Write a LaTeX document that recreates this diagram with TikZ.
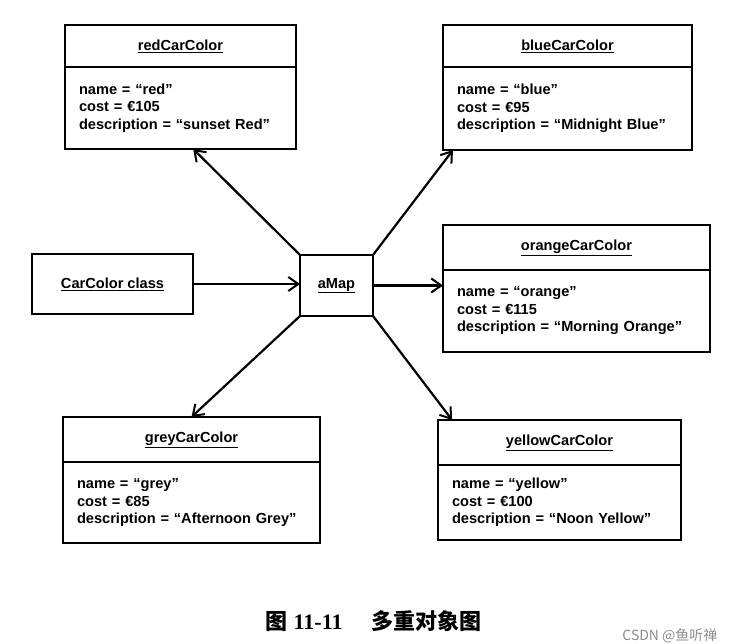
\documentclass[tikz,border=0pt]{standalone}
\usepackage{fontspec}
\setmainfont{Liberation Sans}
\newfontfamily\cjk{Noto Sans CJK SC}
\newfontfamily\capnum{Liberation Serif}
\usepackage{tikz}
\usetikzlibrary{arrows.meta, positioning, calc}

\tikzset{
    objhead/.style={draw, line width=2.2pt, outer sep=0pt, inner sep=0pt},
    objbody/.style={draw, line width=2.2pt, outer sep=0pt, inner xsep=14pt, inner ysep=0pt, align=left},
    link/.style={-{Straight Barb[length=10pt, width=14pt, line width=2pt]}, line width=2.2pt},
}

\begin{document}
\begin{tikzpicture}[x=1pt, y=-1pt, every node/.style={font=\bfseries\fontsize{14.6}{17.5}\selectfont}]
    \useasboundingbox (0,0) rectangle (736,644);

    % --- central map object ---
    \node[objhead, minimum width=73, minimum height=61] (amap) at (336.5,285.5) {\underline{aMap}};
    \node[objhead, minimum width=161, minimum height=60] (ccls) at (112.5,284) {\underline{CarColor class}};

    % --- redCarColor ---
    \node[objhead, minimum width=231, minimum height=42] (redh) at (180.5,46) {\underline{redCarColor}};
    \node[objbody, below=0pt of redh, minimum height=82, text width=203] (redb)
        {name = ``red''\\cost = €105\\description = ``sunset Red''};

    % --- blueCarColor ---
    \node[objhead, minimum width=249, minimum height=42] (blueh) at (567.5,46) {\underline{blueCarColor}};
    \node[objbody, below=0pt of blueh, minimum height=83, text width=221] (blueb)
        {name = ``blue''\\cost = €95\\description = ``Midnight Blue''};

    % --- orangeCarColor ---
    \node[objhead, minimum width=267, minimum height=45] (orangeh) at (576.5,247.5) {\underline{orangeCarColor}};
    \node[objbody, below=0pt of orangeh, minimum height=82, text width=239] (orangeb)
        {name = ``orange''\\cost = €115\\description = ``Morning Orange''};

    % --- greyCarColor ---
    \node[objhead, minimum width=257, minimum height=45] (greyh) at (191.5,439.5) {\underline{greyCarColor}};
    \node[objbody, below=0pt of greyh, minimum height=81, text width=229] (greyb)
        {name = ``grey''\\cost = €85\\description = ``Afternoon Grey''};

    % --- yellowCarColor ---
    \node[objhead, minimum width=243, minimum height=45] (yellowh) at (559.5,442.5) {\underline{yellowCarColor}};
    \node[objbody, below=0pt of yellowh, minimum height=75, text width=215] (yellowb)
        {name = ``yellow''\\cost = €100\\description = ``Noon Yellow''};

    % --- links ---
    \draw[link] (ccls.east) -- (ccls.east -| amap.west);
    \draw[link] (amap.east) -- (amap.east -| orangeb.west);
    \draw[link] (amap.north west) -- ($(redb.south west)!0.555!(redb.south east)$);
    \draw[link] (amap.north east) -- ($(blueb.south west)!0.04!(blueb.south east)$);
    \draw[link] (amap.south west) -- ($(greyh.north west)!0.50!(greyh.north east)$);
    \draw[link] (amap.south east) -- ($(yellowh.north west)!0.058!(yellowh.north east)$);

    % --- caption ---
    \node[font=\bfseries\fontsize{22}{22}\selectfont, anchor=west] (cap) at (262,621)
        {{\cjk 图} {\capnum 11-11}\hspace{1.3em}{\cjk 多重对象图}};
    \node[font=\cjk\fontsize{14}{14}\selectfont, text=black!45, anchor=east] (mark) at (721,636)
        {CSDN @鱼听禅};
\end{tikzpicture}
\end{document}
